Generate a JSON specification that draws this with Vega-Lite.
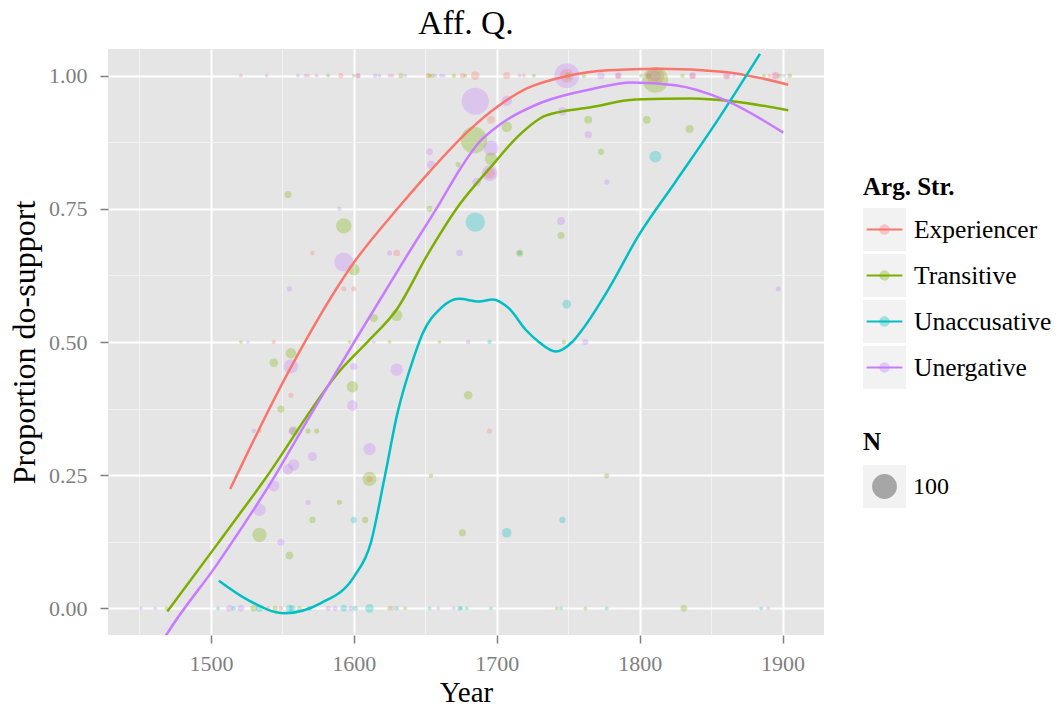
{
  "$schema": "https://vega.github.io/schema/vega-lite/v6.json",
  "width": 716,
  "height": 586,
  "autosize": "none",
  "padding": {"left": 108, "top": 49, "right": 237, "bottom": 72},
  "background": "white",
  "config": {
    "view": {"fill": "#E5E5E5", "stroke": null},
    "font": "Liberation Serif",
    "axis": {"labelFont": "Liberation Serif", "titleFont": "Liberation Serif"}
  },
  "title": {
    "text": "Aff. Q.",
    "font": "Liberation Serif",
    "fontSize": 33.6,
    "fontWeight": "normal",
    "color": "black",
    "anchor": "middle",
    "offset": 8
  },
  "datasets": {
    "pts": [
      {"year": 1521, "prop": 1, "arg": "Experiencer", "N": 1},
      {"year": 1539, "prop": 1, "arg": "Unergative", "N": 1},
      {"year": 1561, "prop": 1, "arg": "Unergative", "N": 1},
      {"year": 1566, "prop": 1, "arg": "Unergative", "N": 1},
      {"year": 1568, "prop": 1, "arg": "Experiencer", "N": 1},
      {"year": 1574, "prop": 1, "arg": "Unergative", "N": 1},
      {"year": 1582, "prop": 1, "arg": "Transitive", "N": 1},
      {"year": 1591, "prop": 1, "arg": "Experiencer", "N": 3},
      {"year": 1600, "prop": 1, "arg": "Transitive", "N": 1},
      {"year": 1603, "prop": 1, "arg": "Unergative", "N": 3},
      {"year": 1603, "prop": 1, "arg": "Experiencer", "N": 2},
      {"year": 1615, "prop": 1, "arg": "Unergative", "N": 2},
      {"year": 1618, "prop": 1, "arg": "Unergative", "N": 1},
      {"year": 1625, "prop": 1, "arg": "Unergative", "N": 1},
      {"year": 1627, "prop": 1, "arg": "Experiencer", "N": 1},
      {"year": 1633, "prop": 1, "arg": "Transitive", "N": 3},
      {"year": 1636, "prop": 1, "arg": "Unergative", "N": 1},
      {"year": 1652, "prop": 1, "arg": "Experiencer", "N": 3},
      {"year": 1653, "prop": 1, "arg": "Transitive", "N": 2},
      {"year": 1655, "prop": 1, "arg": "Transitive", "N": 2},
      {"year": 1657, "prop": 1, "arg": "Unergative", "N": 1},
      {"year": 1661, "prop": 1, "arg": "Unergative", "N": 1},
      {"year": 1663, "prop": 1, "arg": "Unergative", "N": 1},
      {"year": 1670, "prop": 1, "arg": "Transitive", "N": 2},
      {"year": 1676, "prop": 1, "arg": "Experiencer", "N": 3},
      {"year": 1678, "prop": 1, "arg": "Transitive", "N": 1},
      {"year": 1685, "prop": 1, "arg": "Experiencer", "N": 11},
      {"year": 1707, "prop": 1, "arg": "Experiencer", "N": 7},
      {"year": 1716, "prop": 1, "arg": "Unergative", "N": 1},
      {"year": 1719, "prop": 1, "arg": "Experiencer", "N": 1},
      {"year": 1726, "prop": 1, "arg": "Transitive", "N": 1},
      {"year": 1749, "prop": 1, "arg": "Unergative", "N": 100},
      {"year": 1749, "prop": 1, "arg": "Experiencer", "N": 30},
      {"year": 1750, "prop": 1, "arg": "Transitive", "N": 5},
      {"year": 1761, "prop": 1, "arg": "Transitive", "N": 2},
      {"year": 1773, "prop": 1, "arg": "Unergative", "N": 7},
      {"year": 1785, "prop": 1, "arg": "Unergative", "N": 6},
      {"year": 1785, "prop": 1, "arg": "Experiencer", "N": 3},
      {"year": 1801, "prop": 1, "arg": "Transitive", "N": 1},
      {"year": 1806, "prop": 1, "arg": "Unergative", "N": 5},
      {"year": 1806, "prop": 1, "arg": "Experiencer", "N": 2},
      {"year": 1811, "prop": 1, "arg": "Experiencer", "N": 50},
      {"year": 1811, "prop": 1, "arg": "Unergative", "N": 20},
      {"year": 1830, "prop": 1, "arg": "Transitive", "N": 2},
      {"year": 1837, "prop": 1, "arg": "Unergative", "N": 6},
      {"year": 1837, "prop": 1, "arg": "Experiencer", "N": 4},
      {"year": 1861, "prop": 1, "arg": "Experiencer", "N": 8},
      {"year": 1861, "prop": 1, "arg": "Unergative", "N": 3},
      {"year": 1866, "prop": 1, "arg": "Unergative", "N": 1},
      {"year": 1887, "prop": 1, "arg": "Transitive", "N": 1},
      {"year": 1891, "prop": 1, "arg": "Experiencer", "N": 1},
      {"year": 1895, "prop": 1, "arg": "Experiencer", "N": 8},
      {"year": 1895, "prop": 1, "arg": "Unergative", "N": 3},
      {"year": 1898, "prop": 1, "arg": "Transitive", "N": 2},
      {"year": 1901, "prop": 1, "arg": "Unergative", "N": 1},
      {"year": 1905, "prop": 1, "arg": "Transitive", "N": 2},
      {"year": 1811, "prop": 0.992, "arg": "Transitive", "N": 107},
      {"year": 1554, "prop": 0.777, "arg": "Transitive", "N": 7},
      {"year": 1590, "prop": 0.75, "arg": "Unergative", "N": 2},
      {"year": 1593, "prop": 0.718, "arg": "Transitive", "N": 38},
      {"year": 1571, "prop": 0.667, "arg": "Experiencer", "N": 2},
      {"year": 1593, "prop": 0.65, "arg": "Unergative", "N": 58},
      {"year": 1600, "prop": 0.636, "arg": "Transitive", "N": 21},
      {"year": 1593, "prop": 0.6, "arg": "Experiencer", "N": 3},
      {"year": 1600, "prop": 0.6, "arg": "Experiencer", "N": 3},
      {"year": 1555, "prop": 0.6, "arg": "Unergative", "N": 3},
      {"year": 1625, "prop": 0.667, "arg": "Unergative", "N": 3},
      {"year": 1630, "prop": 0.667, "arg": "Experiencer", "N": 6},
      {"year": 1614, "prop": 0.545, "arg": "Transitive", "N": 10},
      {"year": 1630, "prop": 0.55, "arg": "Transitive", "N": 20},
      {"year": 1653, "prop": 0.857, "arg": "Unergative", "N": 6},
      {"year": 1654, "prop": 0.833, "arg": "Unergative", "N": 10},
      {"year": 1653, "prop": 0.75, "arg": "Transitive", "N": 5},
      {"year": 1673, "prop": 0.833, "arg": "Transitive", "N": 3},
      {"year": 1674, "prop": 0.667, "arg": "Unergative", "N": 6},
      {"year": 1685, "prop": 0.725, "arg": "Unaccusative", "N": 61},
      {"year": 1685, "prop": 0.952, "arg": "Unergative", "N": 120},
      {"year": 1684, "prop": 0.879, "arg": "Transitive", "N": 115},
      {"year": 1707, "prop": 0.953, "arg": "Unergative", "N": 17},
      {"year": 1696, "prop": 0.917, "arg": "Experiencer", "N": 9},
      {"year": 1707, "prop": 0.904, "arg": "Transitive", "N": 17},
      {"year": 1696, "prop": 0.864, "arg": "Unergative", "N": 36},
      {"year": 1696, "prop": 0.844, "arg": "Transitive", "N": 24},
      {"year": 1695, "prop": 0.817, "arg": "Unergative", "N": 40},
      {"year": 1695, "prop": 0.817, "arg": "Experiencer", "N": 18},
      {"year": 1686, "prop": 0.8, "arg": "Unergative", "N": 11},
      {"year": 1746, "prop": 0.933, "arg": "Unergative", "N": 11},
      {"year": 1764, "prop": 0.917, "arg": "Transitive", "N": 9},
      {"year": 1764, "prop": 0.889, "arg": "Unergative", "N": 7},
      {"year": 1773, "prop": 0.857, "arg": "Transitive", "N": 5},
      {"year": 1777, "prop": 0.8, "arg": "Unergative", "N": 3},
      {"year": 1805, "prop": 0.917, "arg": "Transitive", "N": 9},
      {"year": 1835, "prop": 0.9, "arg": "Transitive", "N": 9},
      {"year": 1811, "prop": 0.848, "arg": "Unaccusative", "N": 22},
      {"year": 1745, "prop": 0.727, "arg": "Unergative", "N": 9},
      {"year": 1745, "prop": 0.7, "arg": "Transitive", "N": 7},
      {"year": 1716, "prop": 0.667, "arg": "Transitive", "N": 7},
      {"year": 1716, "prop": 0.667, "arg": "Unaccusative", "N": 2},
      {"year": 1749, "prop": 0.571, "arg": "Unaccusative", "N": 11},
      {"year": 1897, "prop": 0.6, "arg": "Unergative", "N": 3},
      {"year": 1521, "prop": 0.5, "arg": "Transitive", "N": 1},
      {"year": 1526, "prop": 0.5, "arg": "Unergative", "N": 1},
      {"year": 1544, "prop": 0.5, "arg": "Experiencer", "N": 2},
      {"year": 1597, "prop": 0.5, "arg": "Transitive", "N": 1},
      {"year": 1614, "prop": 0.5, "arg": "Unergative", "N": 1},
      {"year": 1625, "prop": 0.5, "arg": "Transitive", "N": 1},
      {"year": 1660, "prop": 0.5, "arg": "Transitive", "N": 1},
      {"year": 1680, "prop": 0.5, "arg": "Unergative", "N": 2},
      {"year": 1695, "prop": 0.5, "arg": "Unaccusative", "N": 2},
      {"year": 1747, "prop": 0.5, "arg": "Transitive", "N": 2},
      {"year": 1762, "prop": 0.5, "arg": "Unergative", "N": 5},
      {"year": 1556, "prop": 0.479, "arg": "Transitive", "N": 17},
      {"year": 1544, "prop": 0.461, "arg": "Transitive", "N": 11},
      {"year": 1556, "prop": 0.454, "arg": "Unergative", "N": 33},
      {"year": 1600, "prop": 0.454, "arg": "Unergative", "N": 7},
      {"year": 1630, "prop": 0.448, "arg": "Unergative", "N": 24},
      {"year": 1599, "prop": 0.416, "arg": "Transitive", "N": 20},
      {"year": 1556, "prop": 0.4, "arg": "Experiencer", "N": 3},
      {"year": 1599, "prop": 0.381, "arg": "Unergative", "N": 17},
      {"year": 1549, "prop": 0.374, "arg": "Transitive", "N": 7},
      {"year": 1530, "prop": 0.333, "arg": "Unergative", "N": 2},
      {"year": 1534, "prop": 0.333, "arg": "Experiencer", "N": 2},
      {"year": 1558, "prop": 0.333, "arg": "Transitive", "N": 12},
      {"year": 1557, "prop": 0.333, "arg": "Unergative", "N": 8},
      {"year": 1568, "prop": 0.333, "arg": "Transitive", "N": 3},
      {"year": 1574, "prop": 0.333, "arg": "Transitive", "N": 3},
      {"year": 1611, "prop": 0.299, "arg": "Unergative", "N": 24},
      {"year": 1571, "prop": 0.285, "arg": "Unergative", "N": 12},
      {"year": 1558, "prop": 0.269, "arg": "Unergative", "N": 20},
      {"year": 1554, "prop": 0.261, "arg": "Unergative", "N": 17},
      {"year": 1611, "prop": 0.243, "arg": "Transitive", "N": 32},
      {"year": 1611, "prop": 0.243, "arg": "Experiencer", "N": 5},
      {"year": 1654, "prop": 0.249, "arg": "Transitive", "N": 2},
      {"year": 1544, "prop": 0.23, "arg": "Unergative", "N": 20},
      {"year": 1534, "prop": 0.185, "arg": "Unergative", "N": 24},
      {"year": 1568, "prop": 0.199, "arg": "Unergative", "N": 3},
      {"year": 1590, "prop": 0.199, "arg": "Transitive", "N": 3},
      {"year": 1571, "prop": 0.166, "arg": "Transitive", "N": 5},
      {"year": 1600, "prop": 0.166, "arg": "Unaccusative", "N": 5},
      {"year": 1608, "prop": 0.166, "arg": "Transitive", "N": 5},
      {"year": 1534, "prop": 0.138, "arg": "Transitive", "N": 32},
      {"year": 1549, "prop": 0.124, "arg": "Unergative", "N": 7},
      {"year": 1555, "prop": 0.099, "arg": "Transitive", "N": 8},
      {"year": 1676, "prop": 0.142, "arg": "Transitive", "N": 7},
      {"year": 1680, "prop": 0.4, "arg": "Transitive", "N": 11},
      {"year": 1695, "prop": 0.333, "arg": "Experiencer", "N": 3},
      {"year": 1777, "prop": 0.249, "arg": "Transitive", "N": 3},
      {"year": 1746, "prop": 0.166, "arg": "Unaccusative", "N": 5},
      {"year": 1707, "prop": 0.142, "arg": "Unaccusative", "N": 14},
      {"year": 1451, "prop": 0, "arg": "Unergative", "N": 1},
      {"year": 1461, "prop": 0, "arg": "Unergative", "N": 1},
      {"year": 1469, "prop": 0, "arg": "Transitive", "N": 1},
      {"year": 1505, "prop": 0, "arg": "Unaccusative", "N": 1},
      {"year": 1513, "prop": 0, "arg": "Unergative", "N": 6},
      {"year": 1516, "prop": 0, "arg": "Unaccusative", "N": 2},
      {"year": 1521, "prop": 0, "arg": "Unergative", "N": 6},
      {"year": 1530, "prop": 0, "arg": "Transitive", "N": 6},
      {"year": 1534, "prop": 0, "arg": "Unaccusative", "N": 7},
      {"year": 1540, "prop": 0, "arg": "Experiencer", "N": 2},
      {"year": 1545, "prop": 0, "arg": "Transitive", "N": 3},
      {"year": 1549, "prop": 0, "arg": "Experiencer", "N": 2},
      {"year": 1555, "prop": 0, "arg": "Unaccusative", "N": 7},
      {"year": 1557, "prop": 0, "arg": "Unaccusative", "N": 5},
      {"year": 1562, "prop": 0, "arg": "Transitive", "N": 2},
      {"year": 1569, "prop": 0, "arg": "Unaccusative", "N": 3},
      {"year": 1582, "prop": 0, "arg": "Unergative", "N": 3},
      {"year": 1587, "prop": 0, "arg": "Unergative", "N": 3},
      {"year": 1593, "prop": 0, "arg": "Unaccusative", "N": 6},
      {"year": 1598, "prop": 0, "arg": "Unergative", "N": 3},
      {"year": 1601, "prop": 0, "arg": "Unaccusative", "N": 3},
      {"year": 1611, "prop": 0, "arg": "Unaccusative", "N": 11},
      {"year": 1625, "prop": 0, "arg": "Transitive", "N": 2},
      {"year": 1627, "prop": 0, "arg": "Experiencer", "N": 2},
      {"year": 1630, "prop": 0, "arg": "Unaccusative", "N": 2},
      {"year": 1636, "prop": 0, "arg": "Transitive", "N": 1},
      {"year": 1653, "prop": 0, "arg": "Unaccusative", "N": 1},
      {"year": 1659, "prop": 0, "arg": "Unergative", "N": 1},
      {"year": 1670, "prop": 0, "arg": "Unergative", "N": 1},
      {"year": 1674, "prop": 0, "arg": "Unaccusative", "N": 2},
      {"year": 1675, "prop": 0, "arg": "Unaccusative", "N": 1},
      {"year": 1679, "prop": 0, "arg": "Unaccusative", "N": 1},
      {"year": 1696, "prop": 0, "arg": "Unaccusative", "N": 1},
      {"year": 1742, "prop": 0, "arg": "Transitive", "N": 1},
      {"year": 1745, "prop": 0, "arg": "Unaccusative", "N": 1},
      {"year": 1762, "prop": 0, "arg": "Transitive", "N": 1},
      {"year": 1777, "prop": 0, "arg": "Unaccusative", "N": 1},
      {"year": 1831, "prop": 0, "arg": "Transitive", "N": 6},
      {"year": 1885, "prop": 0, "arg": "Unaccusative", "N": 1},
      {"year": 1890, "prop": 0, "arg": "Unergative", "N": 1}
    ],
    "smooth": [
      {"year": 1513.5, "prop": 0.224, "arg": "Experiencer"},
      {"year": 1553.7, "prop": 0.441, "arg": "Experiencer"},
      {"year": 1600.3, "prop": 0.65, "arg": "Experiencer"},
      {"year": 1630.5, "prop": 0.75, "arg": "Experiencer"},
      {"year": 1652.8, "prop": 0.819, "arg": "Experiencer"},
      {"year": 1679.3, "prop": 0.894, "arg": "Experiencer"},
      {"year": 1701.6, "prop": 0.944, "arg": "Experiencer"},
      {"year": 1720.3, "prop": 0.975, "arg": "Experiencer"},
      {"year": 1750.5, "prop": 1.0, "arg": "Experiencer"},
      {"year": 1778, "prop": 1.01, "arg": "Experiencer"},
      {"year": 1813.3, "prop": 1.013, "arg": "Experiencer"},
      {"year": 1859.8, "prop": 1.007, "arg": "Experiencer"},
      {"year": 1904, "prop": 0.983, "arg": "Experiencer"},
      {"year": 1469.5, "prop": -0.006, "arg": "Transitive"},
      {"year": 1504.9, "prop": 0.122, "arg": "Transitive"},
      {"year": 1537.4, "prop": 0.241, "arg": "Transitive"},
      {"year": 1590.9, "prop": 0.448, "arg": "Transitive"},
      {"year": 1609.5, "prop": 0.5, "arg": "Transitive"},
      {"year": 1630.5, "prop": 0.563, "arg": "Transitive"},
      {"year": 1651.4, "prop": 0.663, "arg": "Transitive"},
      {"year": 1673.7, "prop": 0.757, "arg": "Transitive"},
      {"year": 1697, "prop": 0.832, "arg": "Transitive"},
      {"year": 1715.6, "prop": 0.888, "arg": "Transitive"},
      {"year": 1734.2, "prop": 0.925, "arg": "Transitive"},
      {"year": 1766.7, "prop": 0.941, "arg": "Transitive"},
      {"year": 1797, "prop": 0.955, "arg": "Transitive"},
      {"year": 1836.5, "prop": 0.957, "arg": "Transitive"},
      {"year": 1864.4, "prop": 0.952, "arg": "Transitive"},
      {"year": 1904, "prop": 0.935, "arg": "Transitive"},
      {"year": 1505.6, "prop": 0.052, "arg": "Unaccusative"},
      {"year": 1525.8, "prop": 0.016, "arg": "Unaccusative"},
      {"year": 1551.4, "prop": -0.009, "arg": "Unaccusative"},
      {"year": 1577, "prop": 0.01, "arg": "Unaccusative"},
      {"year": 1600.3, "prop": 0.06, "arg": "Unaccusative"},
      {"year": 1611.8, "prop": 0.122, "arg": "Unaccusative"},
      {"year": 1621.2, "prop": 0.241, "arg": "Unaccusative"},
      {"year": 1630.5, "prop": 0.366, "arg": "Unaccusative"},
      {"year": 1642.1, "prop": 0.472, "arg": "Unaccusative"},
      {"year": 1648, "prop": 0.515, "arg": "Unaccusative"},
      {"year": 1660.7, "prop": 0.563, "arg": "Unaccusative"},
      {"year": 1673.7, "prop": 0.581, "arg": "Unaccusative"},
      {"year": 1687.7, "prop": 0.576, "arg": "Unaccusative"},
      {"year": 1697, "prop": 0.58, "arg": "Unaccusative"},
      {"year": 1708.6, "prop": 0.563, "arg": "Unaccusative"},
      {"year": 1720.3, "prop": 0.523, "arg": "Unaccusative"},
      {"year": 1729.5, "prop": 0.5, "arg": "Unaccusative"},
      {"year": 1741.2, "prop": 0.482, "arg": "Unaccusative"},
      {"year": 1752.8, "prop": 0.5, "arg": "Unaccusative"},
      {"year": 1759.8, "prop": 0.523, "arg": "Unaccusative"},
      {"year": 1778.4, "prop": 0.6, "arg": "Unaccusative"},
      {"year": 1799.3, "prop": 0.7, "arg": "Unaccusative"},
      {"year": 1824.9, "prop": 0.8, "arg": "Unaccusative"},
      {"year": 1850.5, "prop": 0.9, "arg": "Unaccusative"},
      {"year": 1884.2, "prop": 1.041, "arg": "Unaccusative"},
      {"year": 1460, "prop": -0.09, "arg": "Unergative"},
      {"year": 1468.8, "prop": -0.05, "arg": "Unergative"},
      {"year": 1504.9, "prop": 0.085, "arg": "Unergative"},
      {"year": 1544.4, "prop": 0.247, "arg": "Unergative"},
      {"year": 1567.7, "prop": 0.354, "arg": "Unergative"},
      {"year": 1600.3, "prop": 0.5, "arg": "Unergative"},
      {"year": 1637.4, "prop": 0.663, "arg": "Unergative"},
      {"year": 1660.7, "prop": 0.763, "arg": "Unergative"},
      {"year": 1673.7, "prop": 0.822, "arg": "Unergative"},
      {"year": 1687.7, "prop": 0.875, "arg": "Unergative"},
      {"year": 1701.6, "prop": 0.907, "arg": "Unergative"},
      {"year": 1731.8, "prop": 0.95, "arg": "Unergative"},
      {"year": 1766.7, "prop": 0.975, "arg": "Unergative"},
      {"year": 1794.6, "prop": 0.987, "arg": "Unergative"},
      {"year": 1824.9, "prop": 0.982, "arg": "Unergative"},
      {"year": 1859.8, "prop": 0.954, "arg": "Unergative"},
      {"year": 1900.5, "prop": 0.893, "arg": "Unergative"}
    ]
  },
  "layer": [
    {
      "data": {"name": "pts"},
      "mark": {"type": "point", "opacity": 0, "filled": true},
      "encoding": {
        "x": {"field": "year", "type": "quantitative",
          "scale": {"domain": [1428, 1929], "nice": false, "zero": false},
          "axis": {"orient": "bottom", "values": [1450, 1550, 1650, 1750, 1850], "grid": true, "gridColor": "#F2F2F2", "gridWidth": 1, "gridOpacity": 1, "labels": false, "ticks": false, "domain": false, "title": null}},
        "y": {"field": "prop", "type": "quantitative",
          "scale": {"domain": [-0.05, 1.05], "nice": false, "zero": false},
          "axis": {"orient": "left", "values": [0.125, 0.375, 0.625, 0.875], "grid": true, "gridColor": "#F2F2F2", "gridWidth": 1, "gridOpacity": 1, "labels": false, "ticks": false, "domain": false, "title": null}},
        "shape": {"field": "arg", "type": "nominal",
          "scale": {"range": ["square", "square", "square", "square"]},
          "legend": {
            "title": null, "orient": "none", "legendX": 755, "legendY": 159, "padding": 0, "zindex": 0,
            "symbolSize": 1849, "symbolFillColor": "#F2F2F2", "symbolStrokeColor": "transparent", "symbolStrokeWidth": 0, "symbolOpacity": 1,
            "labelExpr": "''", "labelFont": "Liberation Serif", "labelFontSize": 25.5, "labelColor": "transparent", "rowPadding": 3,
            "encoding": {"symbols": {"fill": {"value": "#F2F2F2"}, "opacity": {"value": 1}, "fillOpacity": {"value": 1}, "stroke": {"value": "transparent"}}}
          }}
      }
    },
    {
      "data": {"name": "smooth"},
      "mark": {"type": "point", "opacity": 0, "filled": true},
      "encoding": {
        "x": {"field": "year", "type": "quantitative", "axis": null},
        "y": {"field": "prop", "type": "quantitative", "axis": null},
        "fill": {"field": "arg", "type": "nominal",
          "scale": {"range": ["#F8766D", "#7CAE00", "#00BFC4", "#C77CFF"]},
          "legend": {
            "title": null, "orient": "none", "legendX": 755, "legendY": 159, "padding": 0, "zindex": 1,
            "symbolType": "M-1,-1M1,1M0.24,0A0.24,0.24,0,1,1,-0.24,0A0.24,0.24,0,1,1,0.24,0Z", "symbolSize": 1849, "symbolStrokeColor": "transparent", "symbolStrokeWidth": 0,
            "labelExpr": "''", "labelFont": "Liberation Serif", "labelFontSize": 25.5, "labelColor": "transparent", "rowPadding": 3,
            "encoding": {"symbols": {"opacity": {"value": 0.35}, "fillOpacity": {"value": 1}, "stroke": {"value": "transparent"}}}
          }}
      }
    },
    {
      "data": {"name": "pts"},
      "mark": {"type": "circle", "opacity": 0.3, "clip": true},
      "encoding": {
        "x": {"field": "year", "type": "quantitative", "title": "Year",
          "axis": {"orient": "bottom", "values": [1500, 1600, 1700, 1800, 1900], "format": "d", "grid": true, "gridColor": "white", "gridWidth": 2, "gridOpacity": 1, "domain": false,
            "ticks": true, "tickColor": "#7F7F7F", "tickSize": 8, "tickWidth": 1.5,
            "labelColor": "#7F7F7F", "labelFontSize": 22, "labelPadding": 10, "labelFlush": false, "labelOverlap": false,
            "titleFontSize": 29, "titleFontWeight": "normal", "titleColor": "black", "titlePadding": 4}},
        "y": {"field": "prop", "type": "quantitative", "title": "Proportion do-support",
          "axis": {"orient": "left", "values": [0, 0.25, 0.5, 0.75, 1], "format": ".2f", "grid": true, "gridColor": "white", "gridWidth": 2, "gridOpacity": 1, "domain": false,
            "ticks": true, "tickColor": "#7F7F7F", "tickSize": 8, "tickWidth": 1.5,
            "labelColor": "#7F7F7F", "labelFontSize": 22, "labelPadding": 13, "labelOverlap": false,
            "titleFontSize": 32, "titleFontWeight": "normal", "titleColor": "black", "titlePadding": 7}},
        "color": {"field": "arg", "type": "nominal",
          "scale": {"domain": ["Experiencer", "Transitive", "Unaccusative", "Unergative"], "range": ["#F8766D", "#7CAE00", "#00BFC4", "#C77CFF"]},
          "legend": {
            "title": "Arg. Str.", "orient": "none", "legendX": 755, "legendY": 126, "padding": 0, "zindex": 2,
            "titleFont": "Liberation Serif", "titleFontSize": 25, "titleFontWeight": "bold", "titleColor": "black", "titlePadding": 8,
            "labelFont": "Liberation Serif", "labelFontSize": 25.5, "labelColor": "black", "labelOffset": 8,
            "symbolType": "M-0.87,0H0.87M-1,-1M1,1", "symbolSize": 1681, "symbolStrokeWidth": 2, "rowPadding": -3,
            "encoding": {
              "symbols": {"stroke": {"scale": "color", "field": "value"}, "fill": {"value": "transparent"}, "opacity": {"value": 1}, "strokeOpacity": {"value": 1}}
            }
          }},
        "size": {"field": "N", "type": "quantitative",
          "scale": {"type": "linear", "domain": [1, 100], "range": [14, 616], "zero": false},
          "legend": {
            "title": "N", "orient": "none", "legendX": 755, "legendY": 381, "padding": 0, "values": [100], "zindex": 2,
            "titleFont": "Liberation Serif", "titleFontSize": 25, "titleFontWeight": "bold", "titleColor": "black", "titlePadding": 10,
            "labelFont": "Liberation Serif", "labelFontSize": 24, "labelColor": "black", "labelOffset": 25,
            "symbolFillColor": "#A6A6A6", "symbolStrokeColor": "transparent", "symbolOpacity": 1, "symbolStrokeWidth": 0,
            "encoding": {
              "symbols": {"x": {"value": 21.5}, "y": {"value": 21.5}, "fill": {"value": "#A6A6A6"}, "opacity": {"value": 1}},
              "labels": {"y": {"value": 21.5}}
            }
          }}
      }
    },
    {
      "data": {"name": "smooth"},
      "mark": {"type": "line", "strokeWidth": 2.5, "interpolate": "monotone", "clip": true},
      "encoding": {
        "x": {"field": "year", "type": "quantitative", "axis": null},
        "y": {"field": "prop", "type": "quantitative", "axis": null},
        "color": {"field": "arg", "type": "nominal"}
      }
    },
    {
      "data": {"name": "pts"},
      "transform": [{"filter": "datum.N == 100"}],
      "mark": {"type": "point", "opacity": 0, "filled": true},
      "encoding": {
        "x": {"field": "year", "type": "quantitative", "axis": null},
        "y": {"field": "prop", "type": "quantitative", "axis": null},
        "shape": {"field": "N", "type": "nominal",
          "scale": {"range": ["square"]},
          "legend": {
            "title": null, "orient": "none", "legendX": 755, "legendY": 416, "padding": 0, "zindex": 0,
            "symbolSize": 1849, "symbolFillColor": "#F2F2F2", "symbolStrokeColor": "transparent", "symbolStrokeWidth": 0, "symbolOpacity": 1,
            "labelExpr": "''", "labelFont": "Liberation Serif", "labelFontSize": 24, "labelColor": "transparent",
            "encoding": {"symbols": {"fill": {"value": "#F2F2F2"}, "opacity": {"value": 1}, "fillOpacity": {"value": 1}, "stroke": {"value": "transparent"}}}
          }}
      }
    }
  ],
  "resolve": {"axis": {"x": "independent", "y": "independent"}, "scale": {"shape": "independent"}}
}
